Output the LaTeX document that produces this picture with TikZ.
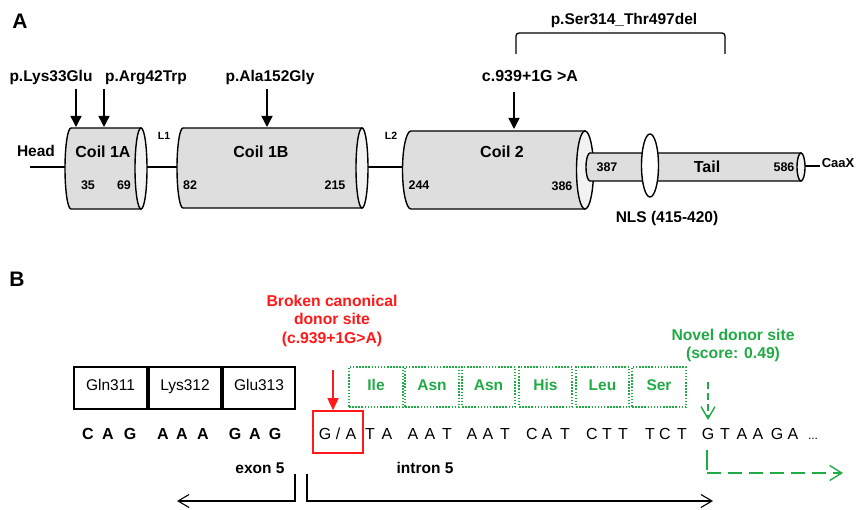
\documentclass[tikz,border=0pt]{standalone}
\usepackage{fontspec}
\setmainfont{Liberation Sans}
\usetikzlibrary{arrows.meta}
\definecolor{myred}{RGB}{255,25,25}
\definecolor{mygreen}{RGB}{34,170,70}
\definecolor{cylgray}{RGB}{222,222,222}
\definecolor{endgray}{RGB}{242,242,242}
\newcommand{\drawcyl}[5]{%
  \filldraw[cylfill] ({#1},{#3-#5}) -- ({#2},{#3-#5}) -- ({#2},{#3+#5}) -- ({#1},{#3+#5})
    arc[start angle=270,end angle=90,x radius=#4pt,y radius=#5pt] -- cycle;
  \filldraw[endfill] ({#2},{#3}) ellipse[x radius=#4pt,y radius=#5pt];}
\newcommand{\slashchar}{/}
\begin{document}
\begin{tikzpicture}[x=1pt,y=-1pt,
  lbl/.style={font=\bfseries\fontsize{15.5}{18}\selectfont, inner sep=0pt, anchor=base},
  coil/.style={font=\bfseries\fontsize{16}{19}\selectfont, inner sep=0pt, anchor=base},
  num/.style={font=\bfseries\fontsize{12.5}{15}\selectfont, inner sep=0pt, anchor=base},
  small/.style={font=\bfseries\fontsize{10.5}{12}\selectfont, inner sep=0pt, anchor=base},
  panel/.style={font=\bfseries\fontsize{21}{24}\selectfont, inner sep=0pt, anchor=base},
  mut/.style={-{Triangle[width=11pt,length=11pt]}, line width=1.5pt},
  conn/.style={line width=1.3pt},
  cylfill/.style={fill=cylgray, draw=black, line width=1.4pt},
  endfill/.style={fill=endgray, draw=black, line width=1.4pt},
  seqb/.style={font=\bfseries\fontsize{16}{19}\selectfont, inner sep=0pt, anchor=base},
  seqn/.style={font=\fontsize{16}{19}\selectfont, inner sep=0pt, anchor=base},
  codon/.style={draw=black, line width=1.2pt, font=\fontsize{15.5}{18}\selectfont, minimum height=42pt, text height=11pt, text depth=7pt, inner sep=0pt},
  gcodon/.style={draw=mygreen, line width=1.5pt, dash pattern=on 1.5pt off 1.6pt, text=mygreen, font=\bfseries\fontsize{15.5}{18}\selectfont, minimum height=40pt, text height=11pt, text depth=5pt, inner sep=0pt},
  redtxt/.style={text=myred, font=\bfseries\fontsize{15.7}{18}\selectfont, inner sep=0pt, anchor=base},
  greentxt/.style={text=mygreen, font=\bfseries\fontsize{15.7}{18}\selectfont, inner sep=0pt, anchor=base},
  region/.style={line width=1.1pt, -{Straight Barb[length=11pt,width=13pt,line width=1.1pt]}},
]
\useasboundingbox[fill=white] (0,0) rectangle (856,510);

% ---------------- Panel A ----------------
\node[panel] (pA) at (20,29) {A};

% backbone lines
\coordinate (hl) at (30,167);
\coordinate (c1aL) at (65,167);
\coordinate (c1aR) at (147,167);
\coordinate (c1bL) at (177,167);
\coordinate (c1bR) at (368,167);
\coordinate (c2L) at (403,167);
\coordinate (tR) at (805,166);
\coordinate (cxL) at (820,166);
\draw[conn] (hl) -- (c1aL);
\draw[conn] (c1aR) -- (c1bL);
\draw[conn] (c1bR) -- (c2L);
\draw[conn] (tR) -- (cxL);

% cylinders
\drawcyl{71}{141}{168.5}{6}{40.5}
\drawcyl{183}{362}{168}{6}{40}
\drawcyl{411}{585}{170}{8.5}{39}
\drawcyl{590}{801}{167}{4}{14}
\filldraw[fill=white, draw=black, line width=1.4pt] (650,165.5) ellipse[x radius=8.5pt,y radius=31.5pt];

% labels
\node[lbl] (head) at (36,157) {Head};
\node[small] (l1) at (164,140) {L1};
\node[small] (l2) at (391,140) {L2};
\node[coil] (coil1a) at (103,158) {Coil 1A};
\node[coil] (coil1b) at (261,158) {Coil 1B};
\node[coil] (coil2) at (502,158) {Coil 2};
\node[coil] (tail) at (707,173) {Tail};
\node[num] (n35) at (88,190) {35};
\node[num] (n69) at (124,190) {69};
\node[num] (n82) at (190,190) {82};
\node[num] (n215) at (335,190) {215};
\node[num] (n244) at (419,190) {244};
\node[num] (n386) at (562,191) {386};
\node[num] (n387) at (607,172) {387};
\node[num] (n586) at (784,172) {586};
\node[lbl] (nls) at (667,223) {NLS (415-420)};
\node[num, font=\bfseries\fontsize{13}{15}\selectfont] (caax) at (838,168) {CaaX};

% mutations
\node[lbl] (m1) at (51,82) {p.Lys33Glu};
\node[lbl] (m2) at (146,82) {p.Arg42Trp};
\node[lbl] (m3) at (270,82) {p.Ala152Gly};
\node[lbl, font=\bfseries\fontsize{16}{19}\selectfont] (m4) at (530,82) {c.939+1G >A};
\node[lbl] (m5) at (624,25) {p.Ser314\_Thr497del};
\coordinate (a1s) at (76,89);  \coordinate (a1e) at (76,127);
\coordinate (a2s) at (104,89); \coordinate (a2e) at (104,127);
\coordinate (a3s) at (267,89); \coordinate (a3e) at (267,127);
\coordinate (a4s) at (514,92); \coordinate (a4e) at (514,129);
\draw[mut] (a1s) -- (a1e);
\draw[mut] (a2s) -- (a2e);
\draw[mut] (a3s) -- (a3e);
\draw[mut] (a4s) -- (a4e);
\coordinate (brL) at (516,54);
\coordinate (brR) at (725,54);
\draw[line width=1.3pt, rounded corners=3pt] (brL) -- (516,33) -- (725,33) -- (brR);

% ---------------- Panel B ----------------
\node[panel] (pB) at (17,287) {B};

\node[redtxt] (r1) at (332,307) {Broken canonical};
\node[redtxt] (r2) at (332,325) {donor site};
\node[redtxt] (r3) at (332,344) {(c.939+1G>A)};

\node[greentxt] (g1) at (733,340) {Novel donor site};
\node[greentxt] (g2) at (733,358) {(score: 0.49)};

\node[codon, minimum width=73pt] (gln) at (110.5,388) {Gln311};
\node[codon, minimum width=72pt] (lys) at (185,388) {Lys312};
\node[codon, minimum width=72pt] (glu) at (259,388) {Glu313};

\node[gcodon, minimum width=54pt] (ile) at (376,387) {Ile};
\node[gcodon, minimum width=54pt] (asn1) at (432,387) {Asn};
\node[gcodon, minimum width=53pt] (asn2) at (488.5,387) {Asn};
\node[gcodon, minimum width=53pt] (his) at (545.5,387) {His};
\node[gcodon, minimum width=53pt] (leu) at (602.5,387) {Leu};
\node[gcodon, minimum width=54pt] (ser) at (659,387) {Ser};

\node[draw=myred, line width=1.6pt, minimum width=50pt, minimum height=42pt, inner sep=0pt] (redbox) at (338,432) {};
\coordinate (rs) at (333,370);
\draw[myred, line width=1.4pt, -{Triangle[width=11pt,length=12pt]}] (rs) -- (rs |- redbox.north);

\foreach \x/\l in {88/C,108/A,130/G,163/A,182/A,203/A,235/G,255/A,275/G}
  \node[seqb] (sb\x) at (\x,439) {\l};
\foreach \x/\l in {325/G,338/\slashchar,351/A,370/T,387/A,413/A,430/A,447/T,472/A,488/A,505/T,532/C,547/A,565/T,592/C,607/T,623/T,650/T,665/C,682/T,708/G,725/T,742/A,758/A,777/G,793/A}
  \node[seqn] (sn\x) at (\x,439) {\l};
\node[seqn, font=\fontsize{12}{14}\selectfont] (dots) at (813,439) {...};

% novel donor arrow
\coordinate (gs) at (708,382);
\coordinate (ge) at (708,420);
\draw[mygreen, line width=1.4pt, dash pattern=on 7pt off 4pt, -{Straight Barb[length=12pt,width=14pt,line width=1.4pt]}] (gs) -- (ge);
\coordinate (gv1) at (707,450);
\coordinate (gv2) at (707,470);
\coordinate (gc) at (707,473);
\coordinate (gend) at (843,473);
\draw[mygreen, line width=1.4pt] (gv1) -- (gv2);
\draw[mygreen, line width=1.4pt, dash pattern=on 14pt off 7pt, -{Straight Barb[length=12pt,width=15pt,line width=1.4pt]}] (gc) -- (gend);

% exon / intron
\node[lbl] (exon) at (260,473) {exon 5};
\node[lbl] (intron) at (425,473) {intron 5};
\coordinate (ex1) at (295,474);
\coordinate (ex2) at (295,501);
\coordinate (ex3) at (177,501);
\coordinate (in1) at (307,474);
\coordinate (in2) at (307,501);
\coordinate (in3) at (713,501);
\draw[region] (ex1) -- (ex2) -- (ex3);
\draw[region] (in1) -- (in2) -- (in3);
\end{tikzpicture}
\end{document}
